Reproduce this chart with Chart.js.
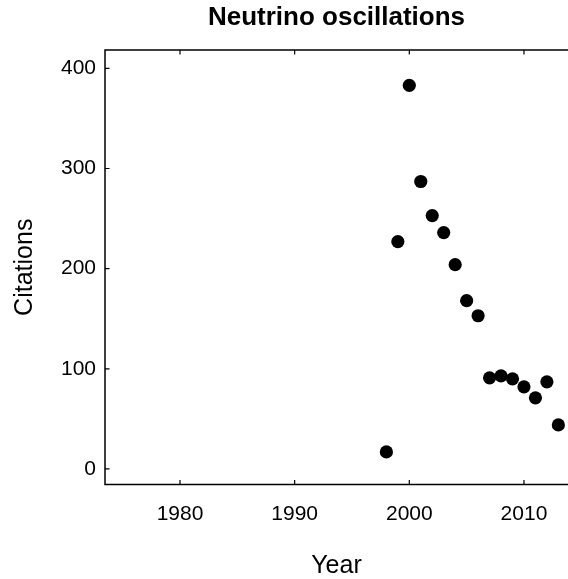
<!DOCTYPE html>
<html>
<head>
<meta charset="utf-8">
<title>Neutrino oscillations</title>
<script src="https://cdn.jsdelivr.net/npm/chart.js@4.4.1/dist/chart.umd.min.js"></script>
<style>
  html, body { margin: 0; padding: 0; background: #fff; }
  #wrap { width: 568px; height: 579px; }
</style>
</head>
<body>
<div id="wrap"><canvas id="chart" width="568" height="579"></canvas></div>
<script>
const years = [1998, 1999, 2000, 2001, 2002, 2003, 2004, 2005, 2006, 2007, 2008, 2009, 2010, 2011, 2012, 2013];
const citations = [17, 227, 383, 287, 253, 236, 204, 168, 153, 91, 93, 90, 82, 71, 87, 44];
const xTicks = [1980, 1990, 2000, 2010];
const yTicks = [0, 100, 200, 300, 400];
const xRange = [1973.46, 2013.84];
const yRange = [-15.5, 418.3];

const FONT = "'Liberation Sans', Arial, Helvetica, sans-serif";

// R-style frame: left, top and bottom lines with short inward ticks
const framePlugin = {
  id: "frame",
  afterDraw(chart) {
    const { ctx, chartArea: a, scales: { x, y } } = chart;
    const tick = 4.5;
    ctx.save();
    ctx.strokeStyle = "#000";
    ctx.lineWidth = 1.5;
    ctx.beginPath();
    ctx.moveTo(a.right, a.top);
    ctx.lineTo(a.left, a.top);
    ctx.lineTo(a.left, a.bottom);
    ctx.lineTo(a.right, a.bottom);
    ctx.stroke();
    ctx.lineWidth = 1.2;
    ctx.beginPath();
    x.ticks.forEach(t => {
      const px = x.getPixelForValue(t.value);
      ctx.moveTo(px, a.bottom);
      ctx.lineTo(px, a.bottom - tick);
      ctx.moveTo(px, a.top);
      ctx.lineTo(px, a.top + tick);
    });
    y.ticks.forEach(t => {
      const py = y.getPixelForValue(t.value);
      ctx.moveTo(a.left, py);
      ctx.lineTo(a.left + tick, py);
    });
    ctx.stroke();
    ctx.restore();
  }
};

const points = years.map((yr, i) => ({ x: yr, y: citations[i] }));

new Chart(document.getElementById("chart"), {
  type: "scatter",
  data: {
    datasets: [{
      data: points,
      backgroundColor: "#000",
      borderWidth: 0,
      pointRadius: 6.6,
      pointHoverRadius: 6.6
    }]
  },
  options: {
    responsive: false,
    animation: false,
    layout: { padding: 0, autoPadding: false },
    plugins: {
      legend: { display: false },
      tooltip: { enabled: false },
      title: {
        display: true,
        text: "Neutrino oscillations",
        fullSize: false,
        color: "#000",
        font: { family: FONT, size: 26, weight: "bold", lineHeight: 1.2 },
        padding: { top: 2.4, bottom: 16.4 }
      }
    },
    scales: {
      x: {
        type: "linear",
        min: xRange[0],
        max: xRange[1],
        afterBuildTicks: s => { s.ticks = xTicks.map(v => ({ value: v })); },
        afterFit: s => { s.height = 94.5; },
        grid: { display: false, drawTicks: false },
        border: { display: false },
        ticks: {
          color: "#000",
          font: { family: FONT, size: 21 },
          padding: 17.6,
          maxRotation: 0,
          callback: v => String(v)
        },
        title: {
          display: true,
          text: "Year",
          color: "#000",
          font: { family: FONT, size: 25, lineHeight: 1 },
          padding: { top: 0, bottom: 0 }
        }
      },
      y: {
        min: yRange[0],
        max: yRange[1],
        afterBuildTicks: s => { s.ticks = yTicks.map(v => ({ value: v })); },
        afterFit: s => { s.width = 105; },
        grid: { display: false, drawTicks: false },
        border: { display: false },
        ticks: {
          color: "#000",
          font: { family: FONT, size: 21 },
          padding: 9,
          callback: v => String(v)
        },
        title: {
          display: true,
          text: "Citations",
          color: "#000",
          font: { family: FONT, size: 25, lineHeight: 1 },
          padding: { top: 12.5, bottom: 0 }
        }
      }
    }
  },
  plugins: [framePlugin]
});
</script>
</body>
</html>
